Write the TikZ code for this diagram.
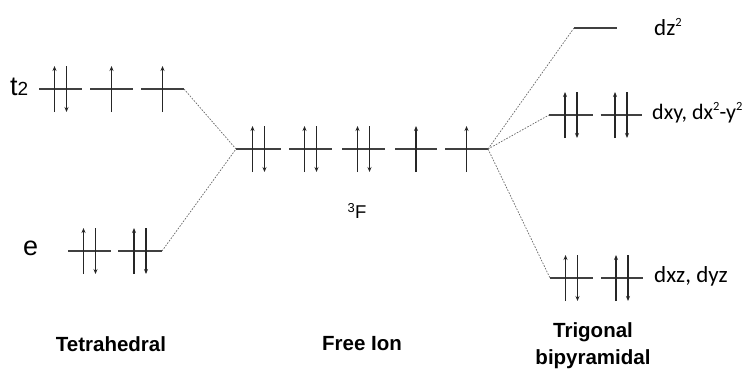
\documentclass[tikz,border=0pt]{standalone}
\usepackage{fontspec}
\setmainfont{Liberation Sans}
\newfontfamily\calib{Carlito}
\usetikzlibrary{arrows.meta}
\tikzset{
  level/.style={line width=1.4pt, draw=black!75},
  spin/.style={line width=1.1pt, draw=black!85, -{Stealth[length=5pt,width=4pt]}},
  corr/.style={line width=0.7pt, draw=black!60, dash pattern=on 1.6pt off 1.4pt},
  lbl/.style={font=\fontsize{27}{29}\selectfont, inner sep=0pt},
  dlbl/.style={font=\calib\fontsize{23}{25}\selectfont, inner sep=0pt, anchor=west},
  geo/.style={font=\bfseries\fontsize{20.5}{27}\selectfont, inner sep=0pt, align=center}
}
\newcommand{\sqr}{\raisebox{0.42em}{\fontsize{12.5}{12.5}\selectfont 2}}
% orbital: #1 center x, #2 level y, #3 electrons (0,1,2), #4 half width
\newcommand{\myorb}[4]{%
  \draw[level] ({#1-#4},#2) -- ({#1+#4},#2);
  \ifnum#3=1
    \draw[spin] (#1,{#2+23}) -- (#1,{#2-23});
  \fi
  \ifnum#3=2
    \draw[spin] ({#1-6},{#2+23}) -- ({#1-6},{#2-23});
    \draw[spin] ({#1+6},{#2-23}) -- ({#1+6},{#2+23});
  \fi
}
\begin{document}
\begin{tikzpicture}[x=1pt,y=-1pt]
\useasboundingbox (0,0) rectangle (749,368);
% Tetrahedral t2
\myorb{60.5}{89}{2}{21.5}
\myorb{111.5}{89}{1}{21.5}
\myorb{162.5}{89}{1}{21.5}
\coordinate (t2R) at (184,89);
% Tetrahedral e
\myorb{89.5}{251}{2}{21.5}
\myorb{140}{251}{2}{22}
\coordinate (eR) at (162,251);
% Free ion
\myorb{258.5}{149}{2}{22.5}
\myorb{310.5}{149}{2}{21.5}
\myorb{363.5}{149}{2}{21.5}
\myorb{416}{149}{1}{21}
\myorb{466.5}{149}{1}{21.5}
\coordinate (fL) at (236,149);
\coordinate (fR) at (488,149);
% Trigonal bipyramidal
\myorb{595.5}{28}{0}{21.5}
\coordinate (zL) at (574,28);
\myorb{571}{115}{2}{22}
\myorb{621}{115}{2}{20.5}
\coordinate (xyL) at (549,115);
\myorb{571.5}{278}{2}{21.5}
\myorb{622}{278}{2}{21}
\coordinate (xzL) at (550,278);
% correlation lines
\draw[corr] (t2R) -- (fL);
\draw[corr] (eR) -- (fL);
\draw[corr] (fR) -- (zL);
\draw[corr] (fR) -- (xyL);
\draw[corr] (fR) -- (xzL);
% labels
\node[lbl, anchor=west] (t2) at (10,87) {t{\fontsize{19}{19}\selectfont 2}};
\node[lbl, anchor=west] (e) at (23,248) {e};
\node[lbl, font=\fontsize{18.5}{20}\selectfont] (F) at (357,211) {\textsuperscript{3}F};
\node[dlbl] (dz) at (654,27) {dz\sqr};
\node[dlbl, font=\calib\fontsize{22}{24}\selectfont] (dxy) at (652,113) {dxy, dx\sqr-y\sqr};
\node[dlbl] (dxz) at (654,276) {dxz, dyz};
\node[geo] (tet) at (111,344) {Tetrahedral};
\node[geo] (free) at (362,344) {Free Ion};
\node[geo] (tbp) at (593,346) {Trigonal\\bipyramidal};
\end{tikzpicture}
\end{document}
